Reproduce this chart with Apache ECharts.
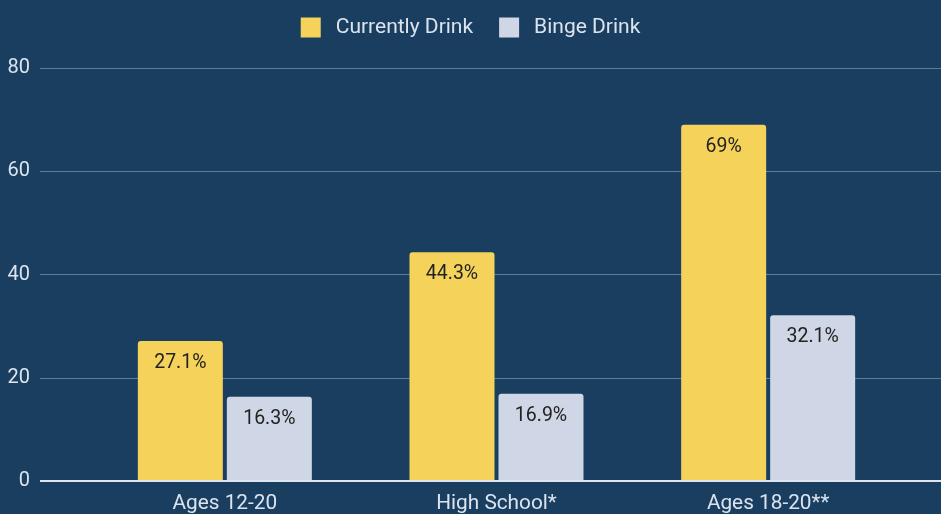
<!DOCTYPE html>
<html><head><meta charset="utf-8">
<script src="https://cdn.jsdelivr.net/npm/echarts@6/dist/echarts.min.js"></script>
<style>html,body{margin:0;padding:0;background:#1a3e60}#c{width:941px;height:514px}</style>
</head><body><div id="c"></div>
<script>
const categories = ['Ages 12-20', 'High School*', 'Ages 18-20**'];
const currentlyDrink = [27.1, 44.3, 69];
const bingeDrink = [16.3, 16.9, 32.1];
const yTicks = [0, 20, 40, 60, 80];

const chart = echarts.init(document.getElementById('c'));
const font = 'Roboto, sans-serif';
const labelStyle = {
  show: true, position: 'insideTop', distance: 12,
  color: '#222', fontSize: 19.5, fontFamily: font,
  formatter: p => p.value + '%'
};
chart.setOption({
  backgroundColor: '#1a3e60',
  textStyle: { fontFamily: font },
  legend: {
    top: 12, left: 'center', itemWidth: 20, itemHeight: 20, itemGap: 26,
    icon: 'rect',
    textStyle: { color: '#dbe4ee', fontSize: 21, fontFamily: font, padding: [0, 0, 0, 10] },
    data: ['Currently Drink', 'Binge Drink']
  },
  grid: [
    { left: 40, right: 0, top: 68, bottom: 33 },
    { left: 89, right: 37, top: 68, bottom: 33 }
  ],
  xAxis: [
    { type: 'value', gridIndex: 0, show: false, min: 0, max: 1 },
    { type: 'category', gridIndex: 1, data: categories,
      axisLine: { show: false }, axisTick: { show: false },
      axisLabel: { color: '#dbe4ee', fontSize: 20.8, fontFamily: font, margin: 12 } }
  ],
  yAxis: [
    { type: 'value', gridIndex: 0, min: yTicks[0], max: yTicks[yTicks.length - 1], interval: 20,
      axisLine: { show: false }, axisTick: { show: false },
      axisLabel: { color: '#dbe4ee', fontSize: 20, fontFamily: font, margin: 10 },
      splitLine: { lineStyle: { color: '#5d7d9c', width: 1 } } },
    { type: 'value', gridIndex: 1, min: yTicks[0], max: yTicks[yTicks.length - 1], interval: 20, show: false,
      splitLine: { show: false } }
  ],
  series: [
    { name: 'Currently Drink', type: 'bar', xAxisIndex: 1, yAxisIndex: 1, data: currentlyDrink,
      barWidth: 85, barGap: '4.7%', itemStyle: { color: '#f5d35a', borderRadius: [3, 3, 0, 0] },
      label: labelStyle },
    { name: 'Binge Drink', type: 'bar', xAxisIndex: 1, yAxisIndex: 1, data: bingeDrink,
      barWidth: 85, itemStyle: { color: '#cfd6e6', borderRadius: [3, 3, 0, 0] },
      label: labelStyle },
    { type: 'line', xAxisIndex: 0, yAxisIndex: 0, data: [[0, 0], [1, 0]], symbol: 'none',
      lineStyle: { color: '#dfe5ee', width: 2 }, silent: true, z: 5 }
  ]
});
</script></body></html>
